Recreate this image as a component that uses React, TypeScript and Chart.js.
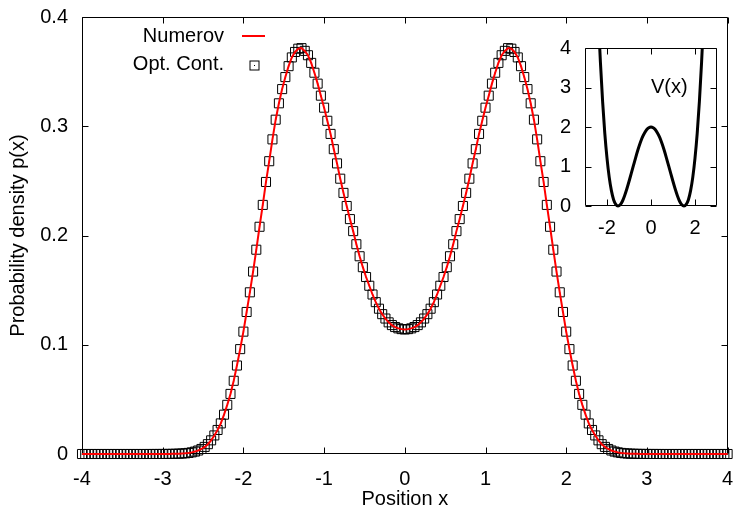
import React, { useEffect, useRef } from "react";
import { Chart, registerables } from "chart.js";

Chart.register(...registerables);

// ---------- data ----------
const positionStart = -4;
const positionStep = 0.04;

const numerovDensity = [
  0, 0, 0, 0, 0, 0, 0, 0, 0, 0, 0, 0, 0, 0, 0, 0, 0, 0, 0, 0, 0,
  0.00001, 0.00001, 0.00002, 0.00003, 0.00004, 0.00006, 0.00009, 0.00013, 0.0002, 0.0003,
  0.00045, 0.00065, 0.001, 0.0015, 0.0022, 0.0032, 0.0046, 0.0065, 0.009, 0.0125,
  0.017, 0.022, 0.028, 0.036, 0.045, 0.055, 0.067, 0.081, 0.096, 0.112,
  0.13, 0.148, 0.167, 0.187, 0.208, 0.228, 0.249, 0.268, 0.288, 0.306,
  0.321, 0.334, 0.345, 0.355, 0.363, 0.368, 0.371, 0.3715, 0.369, 0.365,
  0.358, 0.349, 0.339, 0.328, 0.317, 0.305, 0.293, 0.279, 0.266, 0.252,
  0.239, 0.227, 0.215, 0.204, 0.192, 0.181, 0.171, 0.162, 0.154, 0.146,
  0.139, 0.133, 0.128, 0.124, 0.1205, 0.118, 0.1162, 0.115, 0.1143, 0.114,
  0.1143, 0.115, 0.1162, 0.118, 0.1205, 0.124, 0.128, 0.133, 0.139, 0.146,
  0.154, 0.162, 0.171, 0.181, 0.192, 0.204, 0.215, 0.227, 0.239, 0.252,
  0.266, 0.279, 0.293, 0.305, 0.317, 0.328, 0.339, 0.349, 0.358, 0.365,
  0.369, 0.3715, 0.371, 0.368, 0.363, 0.355, 0.345, 0.334, 0.321, 0.306,
  0.288, 0.268, 0.249, 0.228, 0.208, 0.187, 0.167, 0.148, 0.13, 0.112,
  0.096, 0.081, 0.067, 0.055, 0.045, 0.036, 0.028, 0.022, 0.017, 0.0125,
  0.009, 0.0065, 0.0046, 0.0032, 0.0022, 0.0015, 0.001, 0.00065, 0.00045, 0.0003,
  0.0002, 0.00013, 0.00009, 0.00006, 0.00004, 0.00003, 0.00002, 0.00001, 0.00001,
  0, 0, 0, 0, 0, 0, 0, 0, 0, 0, 0, 0, 0, 0, 0, 0, 0, 0, 0, 0, 0,
];
const optContDensity = [...numerovDensity];

const mainXTicks = [-4, -3, -2, -1, 0, 1, 2, 3, 4];
const mainYTicks = [0, 0.1, 0.2, 0.3, 0.4];

const potentialX = [
  -2.4, -2.35, -2.3, -2.2, -2.1, -2.0, -1.9, -1.8, -1.7, -1.6, -1.5, -1.4, -1.3,
  -1.2, -1.1, -1.0, -0.9, -0.8, -0.7, -0.6, -0.5, -0.4, -0.3, -0.2, -0.1, 0,
  0.1, 0.2, 0.3, 0.4, 0.5, 0.6, 0.7, 0.8, 0.9, 1.0, 1.1, 1.2, 1.3, 1.4, 1.5,
  1.6, 1.7, 1.8, 1.9, 2.0, 2.1, 2.2, 2.3, 2.35, 2.4,
];
const potentialV = [
  4.87, 4.23, 3.65, 2.65, 1.84, 1.21, 0.73, 0.39, 0.16, 0.04, 0, 0.03, 0.12,
  0.26, 0.43, 0.62, 0.82, 1.02, 1.22, 1.41, 1.58, 1.73, 1.84, 1.93, 1.98, 2.0,
  1.98, 1.93, 1.84, 1.73, 1.58, 1.41, 1.22, 1.02, 0.82, 0.62, 0.43, 0.26, 0.12, 0.03, 0,
  0.04, 0.16, 0.39, 0.73, 1.21, 1.84, 2.65, 3.65, 4.23, 4.87,
];
const insetXTicks = [-2, 0, 2];
const insetYTicks = [0, 1, 2, 3, 4];

const seriesLabels = ["Numerov", "Opt. Cont."];
const insetLabel = "V(x)";
const xTitle = "Position x";
const yTitle = "Probability density p(x)";

// ---------- styling ----------
const FONT = "'Liberation Sans', Arial, Helvetica, sans-serif";
const FONT_SIZE = 20;

const framePlugin = {
  id: "frame",
  beforeDatasetsDraw(chart: any, _args: any, opts: any) {
    const { ctx, chartArea: a, scales } = chart;
    const len = opts.tickLength ?? 6;
    const L = Math.round(a.left) + 0.5;
    const R = Math.round(a.right) - 0.5;
    const T = Math.round(a.top) + 0.5;
    const B = Math.round(a.bottom) - 0.5;
    ctx.save();
    ctx.strokeStyle = "#000";
    ctx.lineWidth = 1;
    ctx.beginPath();
    ctx.rect(L, T, R - L, B - T);
    for (const t of scales.x.ticks) {
      const px = Math.round(scales.x.getPixelForValue(t.value)) + 0.5;
      ctx.moveTo(px, B);
      ctx.lineTo(px, B - len);
      ctx.moveTo(px, T);
      ctx.lineTo(px, T + len);
    }
    for (const t of scales.y.ticks) {
      const py = Math.round(scales.y.getPixelForValue(t.value)) + 0.5;
      ctx.moveTo(L, py);
      ctx.lineTo(L + len, py);
      ctx.moveTo(R, py);
      ctx.lineTo(R - len, py);
    }
    ctx.stroke();
    ctx.restore();
  },
};

const keyPlugin = {
  id: "gnuKey",
  afterDatasetsDraw(chart: any, _args: any, opts: any) {
    if (!opts.enabled) return;
    const { ctx, chartArea: a } = chart;
    const ds = chart.data.datasets;
    const textRight = a.left + 142;
    const sampleLeft = a.left + 160;
    const sampleRight = a.left + 183;
    const rows = [a.top + 19, a.top + 47.5];
    ctx.save();
    ctx.font = `${FONT_SIZE}px ${FONT}`;
    ctx.fillStyle = "#000";
    ctx.textAlign = "right";
    ctx.textBaseline = "middle";
    ctx.fillText(ds[0].label, textRight, rows[0]);
    ctx.fillText(ds[1].label, textRight, rows[1]);
    // line sample
    ctx.strokeStyle = ds[0].borderColor;
    ctx.lineWidth = ds[0].borderWidth;
    ctx.beginPath();
    ctx.moveTo(sampleLeft, rows[0]);
    ctx.lineTo(sampleRight, rows[0]);
    ctx.stroke();
    // square sample
    const cx = Math.round((sampleLeft + sampleRight) / 2) + 0.5;
    const cy = Math.round(rows[1]) + 0.5;
    ctx.strokeStyle = "#000";
    ctx.lineWidth = 1;
    ctx.strokeRect(cx - 4.5, cy - 4.5, 9, 9);
    ctx.fillRect(cx - 0.5, cy - 0.5, 1, 1);
    ctx.restore();
  },
};

const labelPlugin = {
  id: "insetLabel",
  afterDatasetsDraw(chart: any, _args: any, opts: any) {
    if (!opts.text) return;
    const { ctx, scales } = chart;
    ctx.save();
    ctx.font = `${FONT_SIZE}px ${FONT}`;
    ctx.fillStyle = "#000";
    ctx.textAlign = "left";
    ctx.textBaseline = "middle";
    ctx.fillText(opts.text, scales.x.getPixelForValue(opts.x), scales.y.getPixelForValue(opts.y));
    ctx.restore();
  },
};

function fixedScale(kind: "x" | "y", size: number) {
  return (scale: any) => {
    if (kind === "x") scale.height = size;
    else scale.width = size;
    scale.paddingTop = 0;
    scale.paddingBottom = 0;
    scale.paddingLeft = 0;
    scale.paddingRight = 0;
  };
}

function tickSetter(values: number[]) {
  return (scale: any) => {
    scale.ticks = values.map((value) => ({ value }));
  };
}

const tickFont = { family: FONT, size: FONT_SIZE };

export default function App() {
  const mainRef = useRef<HTMLCanvasElement>(null);
  const insetRef = useRef<HTMLCanvasElement>(null);

  useEffect(() => {
    const positions = numerovDensity.map(
      (_, i) => Math.round((positionStart + i * positionStep) * 100) / 100
    );
    const numerovPts = positions.map((x, i) => ({ x, y: numerovDensity[i] }));
    const optPts = positions.map((x, i) => ({ x, y: optContDensity[i] }));

    const main = new Chart(mainRef.current!, {
      type: "line",
      data: {
        datasets: [
          {
            label: seriesLabels[0],
            data: numerovPts,
            borderColor: "#ff0000",
            borderWidth: 2,
            pointRadius: 0,
            tension: 0,
            clip: false as any,
          },
          {
            label: seriesLabels[1],
            data: optPts,
            showLine: false,
            pointStyle: "rect",
            pointRadius: 6.4,
            pointHoverRadius: 6.4,
            borderColor: "#000",
            backgroundColor: "rgba(0,0,0,0)",
            pointBorderWidth: 1,
            clip: false as any,
          },
          {
            label: "",
            data: optPts,
            showLine: false,
            pointStyle: "circle",
            pointRadius: 0.6,
            pointBorderWidth: 0,
            pointBackgroundColor: "#000",
            borderColor: "#000",
            clip: false as any,
          },
        ],
      },
      options: {
        responsive: false,
        animation: false,
        devicePixelRatio: 1,
        events: [],
        layout: { padding: { left: 0, top: 17, right: 4, bottom: 0 } },
        plugins: {
          legend: { display: false },
          tooltip: { enabled: false },
          frame: { tickLength: 6 },
          gnuKey: { enabled: true },
          insetLabel: { text: "" },
        } as any,
        scales: {
          x: {
            type: "linear",
            min: -4,
            max: 4,
            grid: { display: false, drawTicks: false },
            border: { display: false },
            afterBuildTicks: tickSetter(mainXTicks),
            afterFit: fixedScale("x", 54),
            ticks: {
              font: tickFont,
              color: "#000",
              padding: 13,
              maxRotation: 0,
              autoSkip: false,
              callback: (v: any) => String(v),
            },
            title: {
              display: true,
              text: xTitle,
              font: tickFont,
              color: "#000",
              padding: { top: 0, bottom: -3 },
            },
          },
          y: {
            type: "linear",
            min: 0,
            max: 0.4,
            grid: { display: false, drawTicks: false },
            border: { display: false },
            afterBuildTicks: tickSetter(mainYTicks),
            afterFit: fixedScale("y", 82),
            ticks: {
              font: tickFont,
              color: "#000",
              padding: 14,
              autoSkip: false,
              callback: (v: any) => String(v),
            },
            title: {
              display: true,
              text: yTitle,
              font: tickFont,
              color: "#000",
              padding: { top: 6, bottom: 0 },
            },
          },
        },
      },
      plugins: [framePlugin, keyPlugin, labelPlugin],
    });

    const insetPts = potentialX.map((x, i) => ({ x, y: potentialV[i] }));
    const inset = new Chart(insetRef.current!, {
      type: "line",
      data: {
        datasets: [
          {
            label: insetLabel,
            data: insetPts,
            borderColor: "#000",
            borderWidth: 3,
            pointRadius: 0,
            cubicInterpolationMode: "monotone",
            clip: { left: 0, top: 0, right: 0, bottom: 3 } as any,
          },
        ],
      },
      options: {
        responsive: false,
        animation: false,
        devicePixelRatio: 1,
        events: [],
        layout: { padding: { left: 0, top: 18, right: 18, bottom: 0 } },
        plugins: {
          legend: { display: false },
          tooltip: { enabled: false },
          frame: { tickLength: 6 },
          gnuKey: { enabled: false },
          insetLabel: { text: insetLabel, x: 0, y: 3 },
        } as any,
        scales: {
          x: {
            type: "linear",
            min: -3,
            max: 3,
            grid: { display: false, drawTicks: false },
            border: { display: false },
            afterBuildTicks: tickSetter(insetXTicks),
            afterFit: fixedScale("x", 39),
            ticks: {
              font: tickFont,
              color: "#000",
              padding: 10,
              maxRotation: 0,
              autoSkip: false,
              callback: (v: any) => String(v),
            },
          },
          y: {
            type: "linear",
            min: 0,
            max: 4,
            grid: { display: false, drawTicks: false },
            border: { display: false },
            afterBuildTicks: tickSetter(insetYTicks),
            afterFit: fixedScale("y", 40),
            ticks: {
              font: tickFont,
              color: "#000",
              padding: 14,
              autoSkip: false,
              callback: (v: any) => String(v),
            },
          },
        },
      },
      plugins: [framePlugin, labelPlugin],
    });

    return () => {
      main.destroy();
      inset.destroy();
    };
  }, []);

  return (
    <div
      style={{
        position: "fixed",
        left: 0,
        top: 0,
        width: 735,
        height: 508,
        background: "#fff",
        overflow: "hidden",
      }}
    >
      <canvas
        ref={mainRef}
        width={735}
        height={508}
        style={{ position: "absolute", left: 0, top: 0, width: 735, height: 508 }}
      />
      <canvas
        ref={insetRef}
        width={190}
        height={215}
        style={{ position: "absolute", left: 545, top: 30, width: 190, height: 215 }}
      />
    </div>
  );
}
